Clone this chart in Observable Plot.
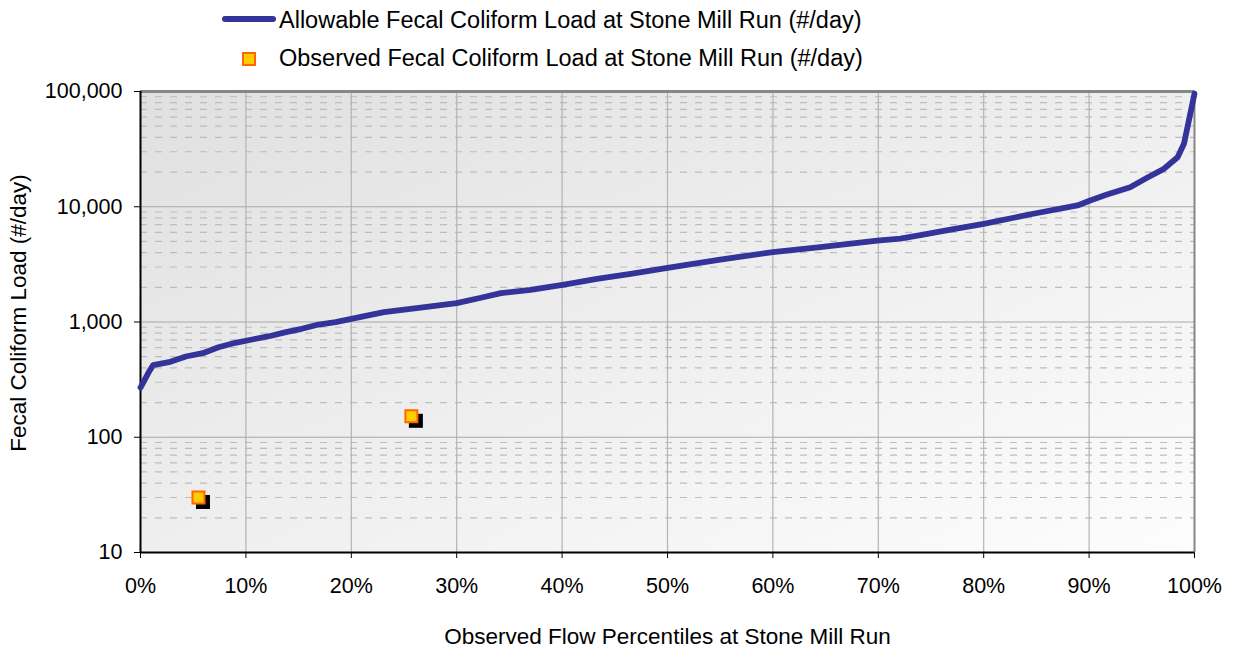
<!DOCTYPE html>
<html><head><meta charset="utf-8">
<script src="https://cdn.jsdelivr.net/npm/d3@7"></script>
<script src="https://cdn.jsdelivr.net/npm/@observablehq/plot@0.6"></script>
<style>
body{margin:0;background:#fff;font-family:"Liberation Sans",Arial,sans-serif;color:#000;}
#legend{position:relative;width:1233px;height:80px;}
#legend .t{position:absolute;left:279px;font-size:23.5px;line-height:1;white-space:nowrap;}
#legend .ln{position:absolute;left:222px;top:15.5px;width:54px;height:6px;border-radius:3px;background:#333399;}
#legend .sq{position:absolute;left:242px;top:52px;width:10px;height:10px;border:2px solid #FF6600;background:#FFCC00;}
#chart svg{display:block;}
</style></head><body>
<div id="legend">
  <div class="ln"></div><div class="t" style="top:9.4px">Allowable Fecal Coliform Load at Stone Mill Run (#/day)</div>
  <div class="sq"></div><div class="t" style="top:46.8px">Observed Fecal Coliform Load at Stone Mill Run (#/day)</div>
</div>
<div id="chart"></div>
<script>
// Allowable load curve (flow percentile %, load #/day)
const curvePct  = [0, 0.8, 1.2, 2.7, 4.3, 5.9, 7.4, 9, 10.6, 12.2, 13.8, 15.3, 16.9, 18.5, 20, 23.1, 26.2, 30, 32.3, 34.2, 37, 40.2, 43.3, 46.5, 50, 55, 60, 64.5, 69.9, 72.1, 74, 77, 80, 84.7, 88.9, 90.1, 91.7, 93.9, 95.5, 97.1, 98.4, 99, 100];
const curveLoad = [270, 370, 422, 448, 502, 536, 604, 660, 705, 753, 816, 873, 951, 996, 1066, 1216, 1318, 1456, 1622, 1779, 1902, 2114, 2371, 2619, 2953, 3484, 4036, 4458, 5092, 5300, 5680, 6350, 7115, 8690, 10260, 11330, 12760, 14790, 17830, 21330, 26920, 35160, 96000];
// Observed loads
const obsPct  = [5.5, 25.7];
const obsLoad = [30, 152];
// Axis ticks
const xTicks = [0,10,20,30,40,50,60,70,80,90,100];
const yTicks = [10,100,1000,10000,100000];
const minorY = [];
for (const d of [10,100,1000,10000]) for (let k=2;k<=9;k++) minorY.push(d*k);

const curve = curvePct.map((p,i)=>({p, v: curveLoad[i]}));
const obs = obsPct.map((p,i)=>({p, v: obsLoad[i]}));

const svg = Plot.plot({
  width: 1233, height: 567,
  marginLeft: 140, marginRight: 39, marginTop: 11, marginBottom: 95,
  style: {fontFamily: "'Liberation Sans', Arial, sans-serif", fontSize: "21.5px", color: "#000", background: "transparent", overflow: "visible"},
  x: {domain: [0,100], ticks: xTicks, tickFormat: d => d + "%", tickSize: 6, tickPadding: 19, label: null},
  y: {type: "log", domain: [10,100000], ticks: yTicks, tickFormat: d3.format(","), tickSize: 6, tickPadding: 12, label: null},
  marks: [
    Plot.frame({fill: "url(#bgGrad)", stroke: "none"}),
    Plot.ruleY(minorY, {stroke: "#BDBDBD", strokeWidth: 1.2, strokeDasharray: "7,8"}),
    Plot.ruleX(xTicks.slice(1,-1), {stroke: "#B4B4B4", strokeWidth: 1.2}),
    Plot.ruleY(yTicks.slice(1,-1), {stroke: "#A8A8A8", strokeWidth: 1.2}),
    Plot.ruleY([100000], {stroke: "#868686", strokeWidth: 3}),
    Plot.ruleX([100], {stroke: "#868686", strokeWidth: 2}),
    Plot.ruleX([0], {stroke: "#000", strokeWidth: 2}),
    Plot.ruleY([10], {stroke: "#000", strokeWidth: 2}),
    Plot.line(curve, {x: "p", y: "v", stroke: "#333399", strokeWidth: 5.8, strokeLinejoin: "round", strokeLinecap: "round"}),
    Plot.dot(obs, {x: "p", y: "v", symbol: "square", r: 7.9, fill: "#000", stroke: "none", dx: 4.5, dy: 4.5}),
    Plot.dot(obs, {x: "p", y: "v", symbol: "square", r: 6.77, fill: "#FFCC00", stroke: "#FF6600", strokeWidth: 2}),
    Plot.text(["Observed Flow Percentiles at Stone Mill Run"], {frameAnchor: "bottom", dy: 84, fontSize: 22.5, lineAnchor: "middle"}),
    Plot.text(["Fecal Coliform Load (#/day)"], {frameAnchor: "left", dx: -122, dy: -9, rotate: -90, fontSize: 22.5, lineAnchor: "middle", textAnchor: "middle"})
  ]
});

const defs = d3.select(svg).insert("defs", ":first-child");
const g = defs.append("linearGradient").attr("id", "bgGrad").attr("x1", 0).attr("y1", 0).attr("x2", 1).attr("y2", 1);
g.append("stop").attr("offset", "0%").attr("stop-color", "#E0E0E0");
g.append("stop").attr("offset", "100%").attr("stop-color", "#FDFDFD");

document.getElementById("chart").appendChild(svg);
</script>
</body></html>
